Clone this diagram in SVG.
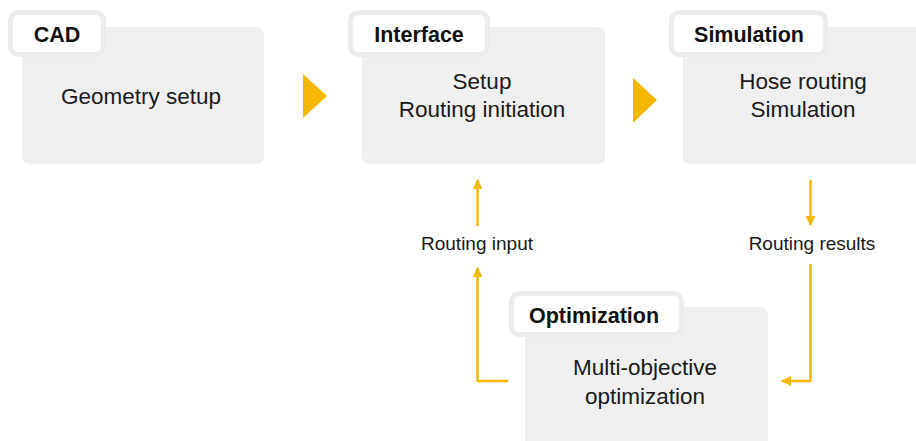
<svg xmlns="http://www.w3.org/2000/svg" width="916" height="441" viewBox="0 0 916 441">
<defs>
<style>
.box{fill:#f0f0f0}
.tab{fill:#ffffff;stroke:#ececec;stroke-width:5}
.tt{font-family:"Liberation Sans",Arial,sans-serif;font-weight:bold;font-size:21.5px;fill:#111;text-anchor:middle}
.bt{font-family:"Liberation Sans",Arial,sans-serif;font-size:22.5px;fill:#1a1a1a;text-anchor:middle}
.lt{font-family:"Liberation Sans",Arial,sans-serif;font-size:19px;fill:#1a1a1a;text-anchor:middle}
.ln{fill:none;stroke:#f5b800;stroke-width:2.5;marker-end:url(#ah)}
.tri{fill:#f5b800}
</style>
<marker id="ah" viewBox="0 0 10 10" refX="9" refY="5" markerWidth="4" markerHeight="4" orient="auto" markerUnits="strokeWidth">
<path d="M0,0 L10,5 L0,10 Z" fill="#f5b800"/>
</marker>
</defs>
<rect width="916" height="441" fill="#ffffff"/>
<g id="cad">
<rect class="box" x="22" y="27" width="242" height="137" rx="7"/>
<rect class="tab" x="10.5" y="12.5" width="93" height="42" rx="8"/>
<text class="tt" x="57" y="42">CAD</text>
<text class="bt" x="141" y="104">Geometry setup</text>
</g>
<g id="interface">
<rect class="box" x="362" y="27" width="243" height="137" rx="7"/>
<rect class="tab" x="350.5" y="12.5" width="137" height="42" rx="8"/>
<text class="tt" x="419" y="42">Interface</text>
<text class="bt" x="482" y="89">Setup</text>
<text class="bt" x="482" y="117">Routing initiation</text>
</g>
<g id="simulation">
<rect class="box" x="683" y="27" width="243" height="137" rx="7"/>
<rect class="tab" x="671.5" y="12.5" width="154" height="42" rx="8"/>
<text class="tt" x="749" y="42">Simulation</text>
<text class="bt" x="803" y="89">Hose routing</text>
<text class="bt" x="803" y="117">Simulation</text>
</g>
<g id="optimization">
<rect class="box" x="525" y="307" width="243" height="140" rx="7"/>
<rect class="tab" x="511.5" y="293.5" width="170" height="41" rx="8"/>
<text class="tt" x="594" y="323">Optimization</text>
<text class="bt" x="645" y="375">Multi-objective</text>
<text class="bt" x="645" y="404">optimization</text>
</g>
<g id="connectors">
<polygon class="tri" points="303,74 327,96 303,118"/>
<polygon class="tri" points="633,78 657,100 633,123"/>
<polyline class="ln" points="508,381 477.5,381 477.5,268"/>
<polyline class="ln" points="477.5,226 477.5,180"/>
<polyline class="ln" points="810.5,180 810.5,225"/>
<polyline class="ln" points="810.5,264 810.5,381 782,381"/>
<text class="lt" x="477" y="250">Routing input</text>
<text class="lt" x="812" y="250">Routing results</text>
</g>
</svg>
